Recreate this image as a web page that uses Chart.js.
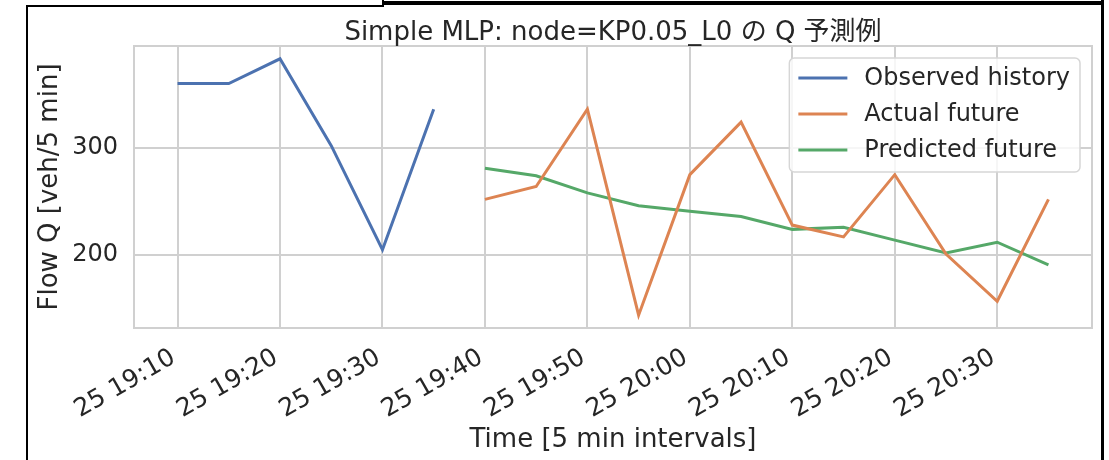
<!DOCTYPE html>
<html><head><meta charset="utf-8">
<script src="https://cdn.jsdelivr.net/npm/chart.js@4"></script>
<style>
html,body{margin:0;padding:0;background:#fff;overflow:hidden;}
#wrap{position:relative;width:1109px;height:460px;}
canvas{position:absolute;left:0;top:0;}
.f{position:absolute;background:#000;}
</style></head><body>
<div id="wrap">
<canvas id="c" width="1109" height="460"></canvas>
<div class="f" style="left:26px;top:5px;width:358px;height:2px"></div>
<div class="f" style="left:26px;top:5px;width:2px;height:455px"></div>
<div class="f" style="left:382px;top:0px;width:2px;height:7px"></div>
<div class="f" style="left:382px;top:1px;width:722px;height:4px"></div>
<div class="f" style="left:1101px;top:0px;width:3px;height:460px"></div>
</div>
<script>
// ---- data ----
const historyTimes = ['19:10','19:15','19:20','19:25','19:30','19:35'];
const historyQ     = [360, 360, 383, 302, 205, 336];
const futureTimes  = ['19:40','19:45','19:50','19:55','20:00','20:05','20:10','20:15','20:20','20:25','20:30','20:35'];
const actualQ      = [252, 264, 336, 144, 275, 324, 228, 217, 275, 201, 157, 252];
const predictedQ   = [281, 274, 258, 246, 241, 236, 224, 226, 214, 202, 212, 191];
const xTickTimes   = ['19:10','19:20','19:30','19:40','19:50','20:00','20:10','20:20','20:30'];
const xTickLabels  = ['25 19:10','25 19:20','25 19:30','25 19:40','25 19:50','25 20:00','25 20:10','25 20:20','25 20:30'];
const yTicks       = [200, 300];
const seriesNames  = ['Observed history','Actual future','Predicted future'];
const seriesColors = ['#4c72b0','#dd8452','#55a868'];
const titleText    = 'Simple MLP: node=KP0.05_L0 の Q 予測例';
const xTitle       = 'Time [5 min intervals]';
const yTitle       = 'Flow Q [veh/5 min]';

// ---- helpers ----
const toMin = t => { const [h,m] = t.split(':').map(Number); return h*60+m; };
const base = toMin(historyTimes[0]);
const xv = t => toMin(t) - base;
const pts = (times, vals) => times.map((t,i) => ({x: xv(t), y: vals[i]}));
const allX = historyTimes.concat(futureTimes).map(xv);
const allY = historyQ.concat(actualQ, predictedQ);
const xSpan = Math.max(...allX) - Math.min(...allX);
const ySpan = Math.max(...allY) - Math.min(...allY);
const FONT = "'DejaVu Sans', 'Noto Sans CJK JP', sans-serif";
const TXT = '#262626';
const GRID = '#d0d0d0';

const frameAndLegend = {
  id: 'frameAndLegend',
  afterDraw(chart) {
    const {ctx, chartArea: a} = chart;
    ctx.save();
    ctx.strokeStyle = GRID; ctx.lineWidth = 2;
    ctx.strokeRect(a.left, a.top, a.right - a.left, a.bottom - a.top);
    // axes title (centred on the plot area)
    ctx.font = '26px ' + FONT;
    ctx.fillStyle = TXT; ctx.textAlign = 'center'; ctx.textBaseline = 'alphabetic';
    ctx.fillText(titleText, (a.left + a.right) / 2, a.top - 6);
    // legend
    ctx.font = '24px ' + FONT;
    const tw = Math.max(...seriesNames.map(s => ctx.measureText(s).width));
    const rowH = 36, padL = 9, handle = 49, gap = 17, padR = 10;
    const w = padL + handle + gap + tw + padR, h = 114;
    const x = a.right - 12 - w, y = a.top + 12;
    ctx.beginPath();
    ctx.roundRect(x, y, w, h, 5);
    ctx.fillStyle = 'rgba(255,255,255,0.8)'; ctx.fill();
    ctx.strokeStyle = '#d6d6d6'; ctx.lineWidth = 1.5; ctx.stroke();
    ctx.textBaseline = 'middle'; ctx.textAlign = 'left';
    seriesNames.forEach((s, i) => {
      const cy = y + 20 + i * rowH;
      ctx.strokeStyle = seriesColors[i]; ctx.lineWidth = 3;
      ctx.beginPath(); ctx.moveTo(x + padL, cy); ctx.lineTo(x + padL + handle, cy); ctx.stroke();
      ctx.fillStyle = TXT;
      ctx.fillText(s, x + padL + handle + gap, cy + 1);
    });
    ctx.restore();
  }
};

new Chart(document.getElementById('c'), {
  type: 'line',
  data: {
    datasets: [
      {label: seriesNames[0], data: pts(historyTimes, historyQ), borderColor: seriesColors[0]},
      {label: seriesNames[1], data: pts(futureTimes, actualQ), borderColor: seriesColors[1]},
      {label: seriesNames[2], data: pts(futureTimes, predictedQ), borderColor: seriesColors[2]}
    ]
  },
  options: {
    responsive: false, animation: false, devicePixelRatio: 1,
    layout: {padding: {left: 0, right: 17, top: 46, bottom: 0}},
    elements: {point: {radius: 0}, line: {borderWidth: 3, tension: 0}},
    plugins: {
      legend: {display: false}, tooltip: {enabled: false}, title: {display: false}
    },
    scales: {
      x: {
        type: 'linear',
        min: Math.min(...allX) - 0.05 * xSpan, max: Math.max(...allX) + 0.05 * xSpan,
        afterBuildTicks: s => { s.ticks = xTickTimes.map(t => ({value: xv(t)})); },
        afterFit: s => { s.height = 132; },
        grid: {color: GRID, lineWidth: 2, drawTicks: false},
        border: {display: false},
        ticks: {
          color: TXT, font: {family: FONT, size: 25},
          maxRotation: 30, minRotation: 30, padding: 15, labelOffset: -4, autoSkip: false,
          callback: (v) => { const i = xTickTimes.findIndex(t => xv(t) === v); return i >= 0 ? xTickLabels[i] : ''; }
        },
        title: {display: true, text: xTitle, color: TXT, font: {family: FONT, size: 26}, padding: {top: 0, bottom: 4}}
      },
      y: {
        type: 'linear',
        min: Math.min(...allY) - 0.05 * ySpan, max: Math.max(...allY) + 0.05 * ySpan,
        afterBuildTicks: s => { s.ticks = yTicks.map(v => ({value: v})); },
        afterFit: s => { s.width = 134; },
        grid: {color: GRID, lineWidth: 2, drawTicks: false},
        border: {display: false},
        ticks: {color: TXT, font: {family: FONT, size: 24}, padding: 16},
        title: {display: true, text: yTitle, color: TXT, font: {family: FONT, size: 26}, padding: {top: 35, bottom: 0}}
      }
    }
  },
  plugins: [frameAndLegend]
});
</script>
</body></html>
